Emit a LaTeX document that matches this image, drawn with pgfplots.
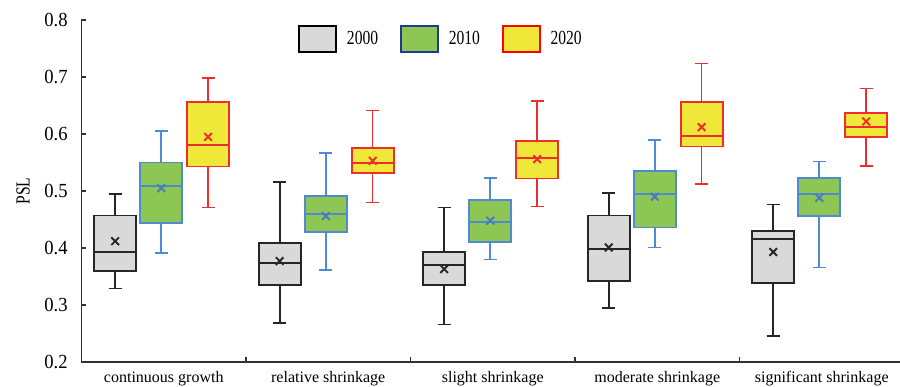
\documentclass[border=0pt]{standalone}
\usepackage{fontspec}
\setmainfont{Liberation Serif}
\newfontfamily\tickfont{Liberation Serif}[FakeStretch=0.93]
\newfontfamily\narrowfont{Liberation Serif}[FakeStretch=0.78]
\usepackage{pgfplots}
\pgfplotsset{compat=1.18}
\usepgfplotslibrary{statistics}

\definecolor{fillA}{RGB}{217,217,217}
\definecolor{edgeA}{RGB}{38,38,38}
\definecolor{fillB}{RGB}{141,198,82}
\definecolor{edgeB}{RGB}{80,138,210}
\definecolor{legB}{RGB}{28,58,150}
\definecolor{fillC}{RGB}{240,232,56}
\definecolor{edgeC}{RGB}{240,45,45}
\definecolor{legC}{RGB}{255,0,0}
\definecolor{axisgray}{RGB}{50,50,50}

% one prepared box: position, lower whisker, Q1, median, Q3, upper whisker, style
\newcommand{\statbox}[7]{%
  \addplot[#7, forget plot, boxplot prepared={draw direction=y, draw position=#1,
    lower whisker=#2, lower quartile=#3, median=#4,
    upper quartile=#5, upper whisker=#6,
    box extend=0.255, whisker extend=0.079}] coordinates {};}

\pgfplotsset{
  yrA/.style={draw=edgeA, fill=fillA, line width=0.95pt},
  yrB/.style={draw=edgeB, fill=fillB, line width=0.95pt},
  yrC/.style={draw=edgeC, fill=fillC, line width=0.95pt},
}

\begin{document}
\begin{tikzpicture}
\clip (-40.75pt,-12pt) rectangle (409.25pt,181pt);
\begin{axis}[
  at={(0pt,0pt)}, anchor=south west,
  scale only axis, width=411.25pt, height=171pt,
  xmin=-0.5, xmax=4.5, ymin=0.2, ymax=0.8,
  enlargelimits=false,
  axis lines=left, axis line style={-, draw=axisgray, line width=0.75pt},
  tick align=inside,
  xtick={0.5,1.5,2.5,3.5}, xticklabels={},
  major tick length=2.4pt,
  tick style={draw=axisgray, line width=0.7pt},
  extra x ticks={0,1,2,3,4},
  extra x tick labels={continuous growth,relative shrinkage,slight shrinkage,moderate shrinkage,significant shrinkage},
  extra x tick style={major tick length=0pt},
  xticklabel style={font=\fontsize{8pt}{9.6pt}\selectfont, anchor=base, yshift=-10pt},
  ytick={0.2,0.3,0.4,0.5,0.6,0.7,0.8},
  /pgf/number format/assume math mode=true,
  yticklabel style={font=\tickfont\fontsize{10pt}{12pt}\selectfont,
    inner sep=0pt, anchor=east, xshift=-6.75pt,
    /pgf/number format/.cd, fixed, fixed zerofill, precision=1},
  ylabel={PSL},
  every axis y label/.style={at={(axis description cs:-0.0711,0.5)},
    rotate=90, anchor=center, font=\narrowfont\fontsize{10pt}{12pt}\selectfont},
  boxplot/draw direction=y,
  boxplot/every whisker/.style={line width=0.8pt},
  boxplot/every median/.style={line width=1pt},
  legend columns=3,
  legend style={draw=none, fill=none, inner sep=0pt,
    at={(axis description cs:0.2632,0.9444)}, anchor=west,
    font=\narrowfont\fontsize{10pt}{12pt}\selectfont,
    nodes={inner sep=0pt},
    /tikz/every odd column/.append style={column sep=5pt},
    /tikz/every even column/.append style={column sep=11pt}},
  legend image code/.code={\draw[#1] (0pt,-6.5pt) rectangle (18.5pt,6.5pt);},
]
% 2000
\statbox{-0.295}{0.329}{0.359}{0.393}{0.457}{0.495}{yrA}
\statbox{0.705}{0.268}{0.335}{0.374}{0.408}{0.516}{yrA}
\statbox{1.705}{0.266}{0.335}{0.371}{0.393}{0.471}{yrA}
\statbox{2.705}{0.295}{0.342}{0.399}{0.457}{0.497}{yrA}
\statbox{3.705}{0.246}{0.339}{0.416}{0.430}{0.476}{yrA}
% 2010
\statbox{-0.015}{0.391}{0.444}{0.508}{0.550}{0.605}{yrB}
\statbox{0.985}{0.361}{0.428}{0.460}{0.491}{0.567}{yrB}
\statbox{1.985}{0.380}{0.410}{0.446}{0.484}{0.523}{yrB}
\statbox{2.985}{0.401}{0.436}{0.495}{0.535}{0.590}{yrB}
\statbox{3.985}{0.366}{0.456}{0.494}{0.523}{0.552}{yrB}
% 2020
\statbox{0.270}{0.471}{0.543}{0.580}{0.656}{0.698}{yrC}
\statbox{1.270}{0.480}{0.532}{0.549}{0.575}{0.641}{yrC}
\statbox{2.270}{0.473}{0.522}{0.558}{0.588}{0.658}{yrC}
\statbox{3.270}{0.512}{0.578}{0.597}{0.656}{0.724}{yrC}
\statbox{4.270}{0.544}{0.595}{0.612}{0.637}{0.680}{yrC}
% means
\addplot[forget plot, only marks, mark=x, mark size=2.7pt,
  mark options={draw=black!85, line width=0.95pt}]
  coordinates {(-0.295,0.412) (0.705,0.377) (1.705,0.363) (2.705,0.401) (3.705,0.393)};
\addplot[forget plot, only marks, mark=x, mark size=2.7pt,
  mark options={draw=edgeB!90!black, line width=0.95pt}]
  coordinates {(-0.015,0.505) (0.985,0.456) (1.985,0.448) (2.985,0.490) (3.985,0.488)};
\addplot[forget plot, only marks, mark=x, mark size=2.7pt,
  mark options={draw=edgeC, line width=0.95pt}]
  coordinates {(0.270,0.595) (1.270,0.553) (2.270,0.556) (3.270,0.612) (4.270,0.622)};
% legend
\addlegendimage{draw=black, fill=fillA, line width=0.8pt}
\addlegendentry{2000}
\addlegendimage{draw=legB, fill=fillB, line width=0.8pt}
\addlegendentry{2010}
\addlegendimage{draw=legC, fill=fillC, line width=0.8pt}
\addlegendentry{2020}
\end{axis}
\end{tikzpicture}
\end{document}
